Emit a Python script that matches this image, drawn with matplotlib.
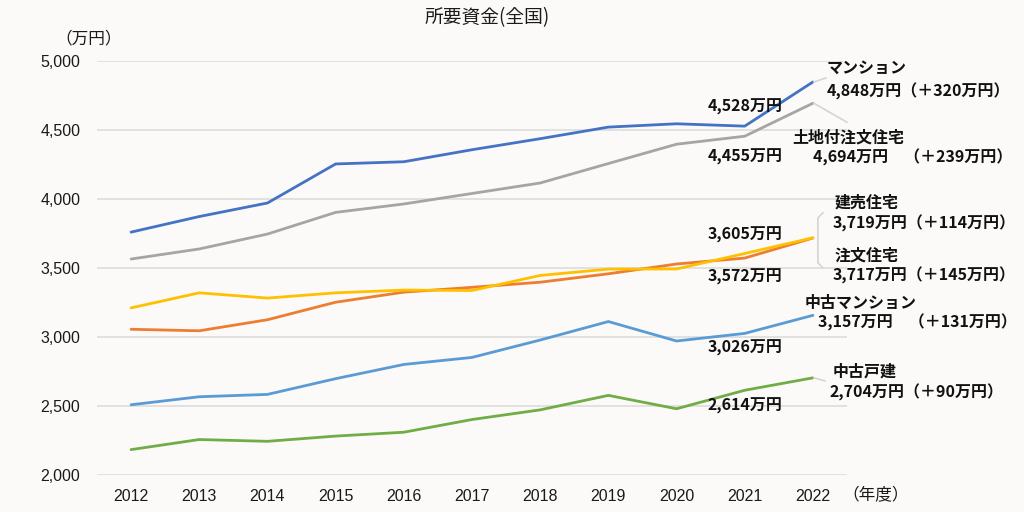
import matplotlib.pyplot as plt
from matplotlib.transforms import offset_copy

plt.rcParams['font.family'] = ['Noto Sans CJK JP', 'DejaVu Sans']

years = [2012, 2013, 2014, 2015, 2016, 2017, 2018, 2019, 2020, 2021, 2022]

mansion = [3760, 3873, 3971, 4254, 4270, 4357, 4437, 4521, 4545, 4528, 4848]
tochitsuki = [3565, 3638, 3746, 3903, 3964, 4040, 4116, 4257, 4397, 4455, 4694]
tateuri = [3211, 3320, 3282, 3320, 3340, 3337, 3446, 3492, 3493, 3605, 3719]
chumon = [3056, 3045, 3125, 3252, 3325, 3360, 3397, 3458, 3529, 3572, 3717]
chuko_mansion = [2509, 2567, 2584, 2698, 2801, 2852, 2978, 3112, 2971, 3026, 3157]
chuko_kodate = [2184, 2257, 2244, 2282, 2310, 2402, 2472, 2577, 2480, 2614, 2704]

names = ['マンション', '土地付注文住宅', '注文住宅', '建売住宅', '中古マンション', '中古戸建']
series = [mansion, tochitsuki, chumon, tateuri, chuko_mansion, chuko_kodate]
colors = ['#4472C4', '#A5A5A5', '#ED7D31', '#FFC000', '#5B9BD5', '#70AD47']
diffs = [320, 239, 145, 114, 131, 90]

bg = '#fbfaf9'
fig = plt.figure(figsize=(10.24, 5.12), dpi=100, facecolor=bg)
ax = fig.add_axes([97 / 1024, 1 - 475 / 512, 750 / 1024, 414 / 512], facecolor=bg)

for vals, c, n in zip(series, colors, names):
    ax.plot(years, vals, color=c, linewidth=2.0, label=n, solid_capstyle='round')

ax.set_xlim(2011.5, 2022.5)
ax.set_ylim(2000, 5000)
ax.set_yticks(range(2000, 5001, 500))
ax.set_yticklabels([f'{v:,}' for v in range(2000, 5001, 500)])
ax.set_xticks(years)
ax.set_xticklabels([str(y) for y in years])
ax.grid(axis='y', color='#dcdcdc', linewidth=1.2)
ax.set_axisbelow(True)
for s in ax.spines.values():
    s.set_visible(False)
ax.tick_params(length=0, labelsize=11.5, colors='#1a1a1a', pad=12)
ax.tick_params(axis='x', pad=10)
for lab in ax.get_xticklabels() + ax.get_yticklabels():
    lab.set_family('Liberation Sans')

fig.text(487 / 1024, 1 - 18 / 512, '所要資金(全国)', ha='center', va='center', fontsize=13.5, color='#1a1a1a')
fig.text(89 / 1024, 1 - 39 / 512, '（万円）', ha='center', va='center', fontsize=12, color='#1a1a1a')
fig.text(876 / 1024, 1 - 496 / 512, '（年度）', ha='center', va='center', fontsize=12, color='#1a1a1a')

# 2021 labels (offset in pixels from the 2021 point)
lab21 = [(mansion, 19), (tochitsuki, -21), (tateuri, 19), (chumon, -19),
         (chuko_mansion, -14), (chuko_kodate, -16)]
for vals, dy in lab21:
    ax.annotate(f'{vals[-2]:,}万円', xy=(years[-2], vals[-2]), xytext=(0, dy),
                textcoords='offset pixels', ha='center', va='center',
                fontsize=11.5, fontweight='bold', color='#111111', annotation_clip=False)

# 2022 labels: (series, gap, name offset, value offset)
lab22 = [
    (mansion, '', (14, 14), (14, -9)),
    (tochitsuki, '　', (-21, -34), (0, -54)),
    (tateuri, '', (22, 35), (20, 14)),
    (chumon, '', (22, -17), (20, -37)),
    (chuko_mansion, '　', (-8, 13), (5, -7)),
    (chuko_kodate, '', (20, 6), (17, -15)),
]
name_of = {id(s): n for s, n in zip(series, names)}
diff_of = {id(s): d for s, d in zip(series, diffs)}
for vals, gap, (nx, ny), (vx, vy) in lab22:
    ax.annotate(name_of[id(vals)], xy=(years[-1], vals[-1]), xytext=(nx, ny),
                textcoords='offset pixels', ha='left', va='center',
                fontsize=11.5, fontweight='bold', color='#111111', annotation_clip=False)
    ax.annotate(f'{vals[-1]:,}万円{gap}（＋{diff_of[id(vals)]}万円）', xy=(years[-1], vals[-1]),
                xytext=(vx, vy), textcoords='offset pixels', ha='left', va='center',
                fontsize=11.5, fontweight='bold', color='#111111', annotation_clip=False)

# leader lines
lead = '#d4d4d4'
def leader(vals, pts):
    xs, ys = [], []
    for dx, dy in pts:
        t = offset_copy(ax.transData, fig=fig, x=dx, y=dy, units='dots')
        x, y = t.transform((years[-1], vals[-1]))
        xs.append(x)
        ys.append(y)
    fig.add_artist(plt.Line2D(xs, ys, color=lead, linewidth=1.2, transform=None))

leader(mansion, [(1, 0), (13, 4)])
leader(tochitsuki, [(1, 0), (34, -19)])
leader(tateuri, [(10, 25), (5, 20), (5, -25), (10, -30)])
leader(chuko_kodate, [(1, 0), (12, -3)])

fig.savefig('out.png', dpi=100, facecolor=bg)
